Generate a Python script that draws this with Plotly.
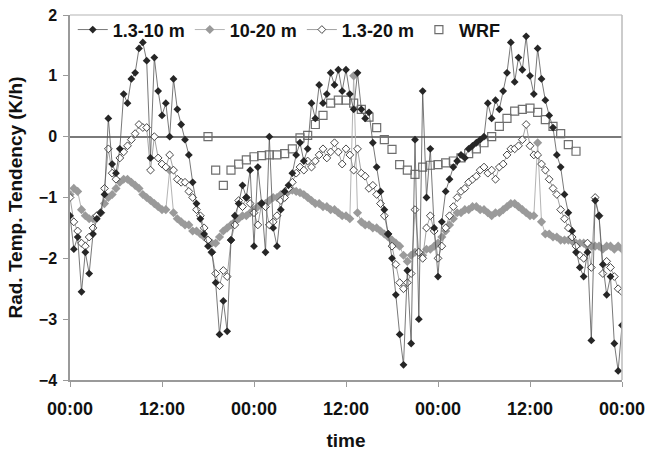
import plotly.graph_objects as go

# time in hours since start (half-hourly observations)
hours = [i * 0.5 for i in range(145)]

tick_vals = [0, 12, 24, 36, 48, 60, 72]
tick_text = ["00:00", "12:00", "00:00", "12:00", "00:00", "12:00", "00:00"]

layer_1_3_10 = [
    -1.3, -1.85, -1.65, -2.55, -1.9, -2.25, -1.6, -1.35, -1.25, -0.95,
    0.3, -0.45, -0.6, -0.2, 0.7, 0.55, 0.95, 1.05, 1.45, 1.55,
    1.25, -0.35, 1.3, 0.75, 0.35, 0.55, 0.0, 0.95, 0.45, 0.2,
    -0.05, -0.3, -0.75, -1.1, -1.35, -1.6, -1.8, -1.9, -2.4, -3.25,
    -2.7, -3.2, -1.7, -1.3, -1.1, -0.8, -1.0, -0.55, -1.8, -0.5,
    -1.1, -1.9, 0.0, -1.5, -1.8, -1.2, -0.9, -0.8, -0.6, -0.3,
    -0.1, -0.4, -0.2, 0.55, 0.3, 0.85, 0.55, 0.7, 1.05, 0.85,
    1.1, 0.75, 1.1, 0.7, 0.45, 1.05, 0.45, 0.3, 0.4, -0.1,
    -0.5, -0.9, -1.2, -1.6, -2.0, -2.6, -3.25, -3.75, -2.2, -3.4,
    -0.05, -3.0, 0.75, -1.0, -0.2, -1.5, -2.3, -1.4, -0.9, -0.7,
    -0.5, -0.4, -0.3, -0.35, -0.2, -0.15, -0.1, -0.05, 0.0, 0.55,
    0.3, 0.6, 0.45, 0.75, 1.05, 1.55, 0.9, 1.3, 1.1, 1.65,
    1.0, 0.7, 1.45, 0.95, 0.6, 0.35, 0.15, -0.3, -0.5, -0.95,
    -1.25, -1.55, -1.9, -2.15, -2.3, -1.9, -3.35, -1.05, -1.3, -2.1,
    -2.6, -2.3, -3.4, -3.85, -3.1,
]

layer_10_20 = [
    -0.95, -0.85, -0.9, -1.2, -1.3, -1.35, -1.35, -1.3, -1.25, -1.1,
    -1.0, -0.95, -0.85, -0.75, -0.7, -0.7, -0.75, -0.8, -0.85, -0.95,
    -1.0, -1.05, -1.1, -1.15, -1.2, -1.2, -0.55, -1.25, -1.35, -1.4,
    -1.45, -1.45, -1.55, -1.55, -1.6, -1.65, -1.7, -1.75, -1.75, -1.65,
    -1.55, -1.5, -1.45, -1.4, -1.35, -1.3, -1.3, -1.25, -1.2, -1.15,
    -1.1, -1.1, -1.05, -1.0, -1.0, -0.95, -0.95, -0.9, -0.88, -0.9,
    -0.92, -0.95, -1.0, -1.05, -1.1, -1.1, -1.15, -1.15, -1.2, -1.2,
    -1.25, -1.3, -1.3, -1.35, 1.0, -1.25, -1.4, -1.45, -1.45, -1.5,
    -1.5, -1.55, -1.6, -1.65, -1.7, -1.75, -1.8, -1.95, -2.05, -1.95,
    -1.9, -1.9, -1.95, -1.85, -1.85, -1.8, -1.75, -1.65, -1.55, -1.45,
    -1.35, -1.25, -1.25, -1.2, -1.2, -1.15, -1.15, -1.2, -1.2, -1.25,
    -1.3, -1.25, -1.25, -1.2, -1.15, -1.1, -1.1, -1.15, -1.2, -1.25,
    -1.3, -1.3, -0.1, -1.4, -1.6, -1.6, -1.65, -1.65, -1.7, -1.7,
    -1.7, -1.72, -1.75, -1.75, -1.75, -1.8, -1.8, -1.8, -1.8, -1.85,
    -1.8, -1.8, -1.85, -1.8, -1.85,
]

layer_1_3_20 = [
    -1.0, -1.4, -1.55, -1.75, -1.8, -1.65, -1.5, -1.3, -1.25, -0.85,
    -0.2, -0.6, -0.7, -0.35, -0.25, -0.15, -0.05, 0.05, 0.2, 0.15,
    0.15, -0.55, 0.0, -0.35, -0.45, -0.5, -0.3, -0.55, -0.7, -0.75,
    -0.75, -0.9, -1.0, -1.2, -1.3, -1.5, -1.7, -1.9, -2.25, -2.45,
    -2.2, -2.3, -1.7, -1.45, -1.05, -1.15, -1.0, -1.1, -1.25, -1.45,
    -1.1, -1.15, -1.45, -1.4, -1.3, -1.05, -1.0, -0.85, -0.75, -0.6,
    -0.5, -0.55, -0.4, -0.5, -0.4, -0.3, -0.2, -0.35, -0.25, -0.1,
    -0.25, -0.45, -0.2, -0.3, -0.55, -0.2, -0.6, -0.65, -0.85, -0.8,
    -0.95, -1.1, -1.3, -1.6, -1.8, -2.1, -2.4, -2.5, -2.4, -2.25,
    -1.2, -1.9, -2.0, -1.5, -1.3, -1.55, -2.0, -1.8, -1.5, -1.3,
    -1.15, -1.0, -0.9, -0.85, -0.75, -0.7, -0.65, -0.55, -0.5, -0.6,
    -0.55, -0.7, -0.5, -0.45, -0.3, -0.2, -0.2, -0.15, -0.05, 0.2,
    -0.15, -0.3, -0.3, -0.45, -0.55, -0.7, -0.85, -0.95, -1.2, -1.35,
    -1.5, -1.65, -1.8, -1.95, -2.0, -1.75, -2.15, -1.0, -1.3, -2.25,
    -2.05, -2.15, -2.3, -2.5, -2.55,
]

wrf_hours = list(range(18, 67))
wrf = [
    0.0, -0.55, -0.8, -0.55, -0.45, -0.38, -0.33, -0.31, -0.3, -0.3,
    -0.28, -0.2, -0.02, 0.02, 0.2, 0.35, 0.55, 0.6, 0.6, 0.55,
    0.45, 0.32, 0.15, -0.05, -0.21, -0.46, -0.55, -0.62, -0.5, -0.47,
    -0.46, -0.43, -0.4, -0.35, -0.28, -0.2, -0.1, 0.0, 0.17, 0.3,
    0.42, 0.45, 0.47, 0.4, 0.28, 0.17, 0.05, -0.13, -0.24,
]

FONT = "Liberation Sans, Arial, sans-serif"

fig = go.Figure()

fig.add_trace(go.Scatter(
    x=wrf_hours, y=wrf, name="WRF", mode="markers", legendrank=4,
    marker=dict(symbol="square-open", size=8, color="#6e6e6e", line=dict(width=1.2)),
))
fig.add_trace(go.Scatter(
    x=hours, y=layer_10_20, name="10-20 m", mode="lines+markers", legendrank=2,
    line=dict(color="#b4b4b4", width=1),
    marker=dict(symbol="diamond", size=7, color="#9a9a9a", line=dict(width=0)),
))
fig.add_trace(go.Scatter(
    x=hours, y=layer_1_3_20, name="1.3-20 m", mode="lines+markers", legendrank=3,
    line=dict(color="#8a8a8a", width=0.8),
    marker=dict(symbol="diamond", size=6, color="white", line=dict(width=0.9, color="#333333")),
))
fig.add_trace(go.Scatter(
    x=hours, y=layer_1_3_10, name="1.3-10 m", mode="lines+markers", legendrank=1,
    line=dict(color="#555555", width=0.8),
    marker=dict(symbol="diamond", size=6, color="#262626", line=dict(width=0)),
))

fig.update_layout(
    width=649, height=451,
    margin=dict(l=70, r=27, t=15, b=71, autoexpand=False),
    paper_bgcolor="white", plot_bgcolor="white",
    font=dict(family=FONT, color="#111111", weight="bold"),
    showlegend=True,
    legend=dict(
        orientation="h", x=0.005, y=1.01, xanchor="left", yanchor="top",
        bgcolor="rgba(255,255,255,0)", font=dict(size=18, family=FONT, weight="bold"),
        itemwidth=30, tracegroupgap=0,
    ),
    xaxis=dict(
        range=[0, 72], tickvals=tick_vals, ticktext=tick_text,
        showgrid=False, zeroline=False, showline=True, linecolor="#9a9a9a", linewidth=1.5,
        ticks="outside", ticklen=5, tickcolor="#9a9a9a",
        tickfont=dict(size=18, family=FONT, weight="bold"),
        ticklabelstandoff=7,
        title=dict(text="time", font=dict(size=19, family=FONT, weight="bold"), standoff=19),
    ),
    yaxis=dict(
        range=[-4, 2], dtick=1,
        showgrid=False, zeroline=True, zerolinecolor="#7a7a7a", zerolinewidth=1.6,
        showline=True, linecolor="#9a9a9a", linewidth=1.5,
        ticks="outside", ticklen=5, tickcolor="#9a9a9a",
        tickfont=dict(size=16, family=FONT, weight="bold"),
        ticklabelstandoff=3,
        title=dict(text="Rad. Temp. Tendency (K/h)", font=dict(size=19, family=FONT, weight="bold"), standoff=11),
    ),
    shapes=[
        dict(type="line", xref="paper", yref="paper", x0=0, x1=1, y0=1, y1=1,
             line=dict(color="#cccccc", width=1.5)),
        dict(type="line", xref="paper", yref="paper", x0=1, x1=1, y0=0, y1=1,
             line=dict(color="#bbbbbb", width=1.5)),
    ],
)

fig.write_html(
    "out.html",
    config={"displayModeBar": False},
    post_script="document.body.style.margin='0';document.body.style.padding='0';",
)
